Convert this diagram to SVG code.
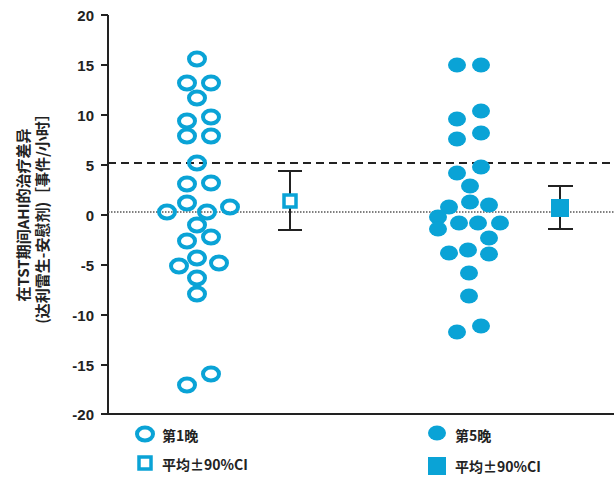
<svg xmlns="http://www.w3.org/2000/svg" width="614" height="501" viewBox="0 0 614 501">
<style>
.t{font-family:"Liberation Sans","Noto Sans CJK SC",sans-serif;font-weight:bold;font-size:15px;fill:#222}
.l{font-family:"Noto Sans CJK SC","Liberation Sans",sans-serif;font-weight:bold;font-size:14px;fill:#222}
.y{font-size:15px}
.o{fill:none;stroke:#0aa3d6;stroke-width:4}
.f{fill:#0aa3d6}
.ax{stroke:#222;stroke-width:2;fill:none}
</style>
<g id="axes">
<path class="ax" d="M108,15V414H614"/>
<path class="ax" d="M101,15H108M101,65H108M101,115H108M101,165H108M101,215H108M101,265H108M101,315H108M101,365H108M101,414H108"/>
<g class="t" text-anchor="end">
<text x="94" y="21">20</text><text x="94" y="71">15</text><text x="94" y="121">10</text><text x="94" y="171">5</text><text x="94" y="221">0</text><text x="94" y="271">-5</text><text x="94" y="321">-10</text><text x="94" y="371">-15</text><text x="94" y="420">-20</text>
</g>
<g class="l y" text-anchor="middle" transform="translate(0,215) rotate(-90)">
<text x="0" y="29">在TST期间AHI的治疗差异</text>
<text x="0" y="48">(达利雷生-安慰剂)［事件/小时］</text>
</g>
</g>
<g id="connectors">
<path d="M108,163H614" stroke="#222" stroke-width="2" stroke-dasharray="8,5"/>
<path d="M108,212H614" stroke="#555" stroke-width="1.5" stroke-dasharray="1.5,1.5"/>
<path d="M290,171V230M278,171H302M278,230H302M560,186V229M548,186H573M548,229H573" stroke="#222" stroke-width="2"/>
</g>
<g id="night1">
<ellipse class="o" cx="197" cy="59" rx="8" ry="6.5"/><ellipse class="o" cx="187" cy="83" rx="8" ry="6.5"/><ellipse class="o" cx="211" cy="83" rx="8" ry="6.5"/><ellipse class="o" cx="197" cy="98" rx="8" ry="6.5"/><ellipse class="o" cx="187" cy="121" rx="8" ry="6.5"/><ellipse class="o" cx="211" cy="117" rx="8" ry="6.5"/><ellipse class="o" cx="187" cy="136" rx="8" ry="6.5"/><ellipse class="o" cx="211" cy="136" rx="8" ry="6.5"/><ellipse class="o" cx="197" cy="163" rx="8" ry="6.5"/><ellipse class="o" cx="187" cy="184" rx="8" ry="6.5"/><ellipse class="o" cx="211" cy="183" rx="8" ry="6.5"/><ellipse class="o" cx="187" cy="203" rx="8" ry="6.5"/><ellipse class="o" cx="167" cy="212" rx="8" ry="6.5"/><ellipse class="o" cx="207" cy="212" rx="8" ry="6.5"/><ellipse class="o" cx="230" cy="207" rx="8" ry="6.5"/><ellipse class="o" cx="197" cy="225" rx="8" ry="6.5"/><ellipse class="o" cx="187" cy="241" rx="8" ry="6.5"/><ellipse class="o" cx="211" cy="237" rx="8" ry="6.5"/><ellipse class="o" cx="197" cy="258" rx="8" ry="6.5"/><ellipse class="o" cx="179" cy="266" rx="8" ry="6.5"/><ellipse class="o" cx="219" cy="263" rx="8" ry="6.5"/><ellipse class="o" cx="197" cy="278" rx="8" ry="6.5"/><ellipse class="o" cx="197" cy="294" rx="8" ry="6.5"/><ellipse class="o" cx="187" cy="385" rx="8" ry="6.5"/><ellipse class="o" cx="211" cy="374" rx="8" ry="6.5"/>
</g>
<g id="mean1"><rect x="284" y="195" width="12" height="12" fill="#fff" stroke="#0aa3d6" stroke-width="3.5"/></g>
<g id="night5">
<ellipse class="f" cx="457" cy="65" rx="9" ry="7.5"/><ellipse class="f" cx="481" cy="65" rx="9" ry="7.5"/><ellipse class="f" cx="457" cy="119" rx="9" ry="7.5"/><ellipse class="f" cx="481" cy="111" rx="9" ry="7.5"/><ellipse class="f" cx="457" cy="139" rx="9" ry="7.5"/><ellipse class="f" cx="481" cy="133" rx="9" ry="7.5"/><ellipse class="f" cx="457" cy="173" rx="9" ry="7.5"/><ellipse class="f" cx="481" cy="167" rx="9" ry="7.5"/><ellipse class="f" cx="470" cy="186" rx="9" ry="7.5"/><ellipse class="f" cx="470" cy="202" rx="9" ry="7.5"/><ellipse class="f" cx="449" cy="207" rx="9" ry="7.5"/><ellipse class="f" cx="489" cy="205" rx="9" ry="7.5"/><ellipse class="f" cx="438" cy="217" rx="9" ry="7.5"/><ellipse class="f" cx="438" cy="229" rx="9" ry="7.5"/><ellipse class="f" cx="459" cy="223" rx="9" ry="7.5"/><ellipse class="f" cx="478" cy="223" rx="9" ry="7.5"/><ellipse class="f" cx="500" cy="223" rx="9" ry="7.5"/><ellipse class="f" cx="489" cy="238" rx="9" ry="7.5"/><ellipse class="f" cx="449" cy="253" rx="9" ry="7.5"/><ellipse class="f" cx="468" cy="250" rx="9" ry="7.5"/><ellipse class="f" cx="489" cy="254" rx="9" ry="7.5"/><ellipse class="f" cx="469" cy="273" rx="9" ry="7.5"/><ellipse class="f" cx="469" cy="296" rx="9" ry="7.5"/><ellipse class="f" cx="457" cy="332" rx="9" ry="7.5"/><ellipse class="f" cx="481" cy="326" rx="9" ry="7.5"/>
</g>
<g id="mean5"><rect x="551" y="199" width="18" height="18" class="f"/></g>
<g id="legend">
<ellipse class="o" cx="145" cy="434" rx="8" ry="6.5"/>
<text class="l" x="162" y="441">第1晚</text>
<ellipse class="f" cx="437" cy="433" rx="9" ry="7.5"/>
<text class="l" x="455" y="441">第5晚</text>
<rect x="139" y="457" width="12" height="12" fill="#fff" stroke="#0aa3d6" stroke-width="3.5"/>
<text class="l" x="162" y="470">平均±90%CI</text>
<rect x="428" y="457" width="18" height="18" class="f"/>
<text class="l" x="455" y="472">平均±90%CI</text>
</g>
</svg>
